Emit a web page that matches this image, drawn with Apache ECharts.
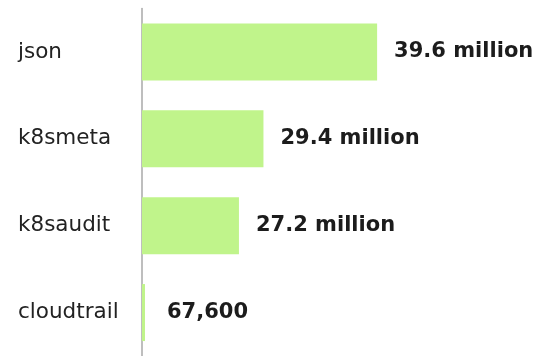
<!DOCTYPE html>
<html>
<head>
<meta charset="utf-8">
<script src="https://cdn.jsdelivr.net/npm/echarts@6/dist/echarts.min.js"></script>
<style>
html,body{margin:0;padding:0;background:#fff;}
#chart{width:555px;height:356px;}
</style>
</head>
<body>
<div id="chart"></div>
<script>
const categories = ['json', 'k8smeta', 'k8saudit', 'cloudtrail'];
const values = [39600000, 29400000, 27200000, 67600];

function fmt(v) {
  if (v >= 1e6) return (v / 1e6).toFixed(1) + ' million';
  return v.toLocaleString('en-US');
}

const big = values.map(v => v >= 1e6 ? v : null);
const small = values.map(v => v < 1e6 ? v : null);

const labelStyle = {
  show: true,
  position: 'right',
  fontFamily: 'DejaVu Sans',
  fontWeight: 'bold',
  fontSize: 21,
  color: '#1c1c1c',
  formatter: p => fmt(p.value)
};

const chart = echarts.init(document.getElementById('chart'));
chart.setOption({
  animation: false,
  grid: { left: 142, top: 8.5, width: 351, height: 352 },
  xAxis: [
    { type: 'value', min: 18500000, max: 50000000, show: false },
    { type: 'value', min: 0, max: 50000000, show: false }
  ],
  yAxis: {
    type: 'category',
    data: categories,
    inverse: true,
    axisLine: { show: true, lineStyle: { color: '#a8a8a8', width: 1.5 } },
    axisTick: { show: false },
    axisLabel: {
      align: 'left',
      margin: 124,
      fontFamily: 'DejaVu Sans',
      fontSize: 21.5,
      color: '#222'
    },
    splitLine: { show: false }
  },
  series: [
    {
      type: 'bar',
      xAxisIndex: 0,
      data: big,
      barWidth: 57,
      itemStyle: { color: '#c0f48b' },
      label: Object.assign({}, labelStyle, { distance: 17 })
    },
    {
      type: 'bar',
      xAxisIndex: 1,
      data: small,
      barWidth: 57,
      barGap: '-100%',
      barMinHeight: 3,
      itemStyle: { color: '#c0f48b' },
      label: Object.assign({}, labelStyle, { distance: 22 })
    }
  ]
});
</script>
</body>
</html>
